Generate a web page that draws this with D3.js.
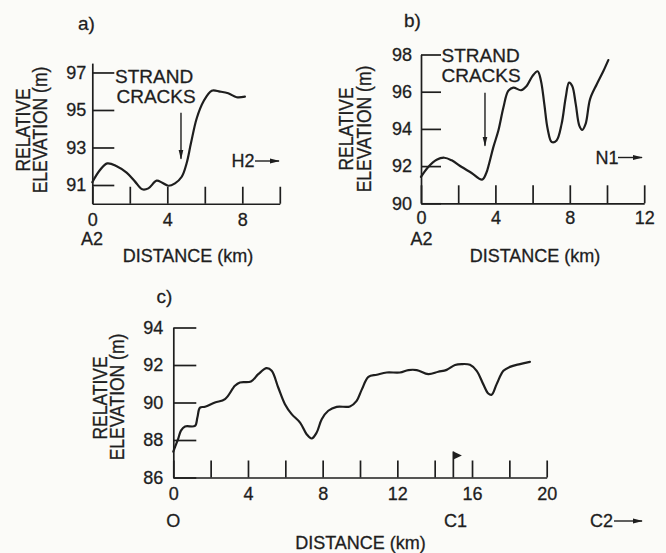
<!DOCTYPE html>
<html><head><meta charset="utf-8">
<script src="https://cdn.jsdelivr.net/npm/d3@7"></script>
<style>
html,body{margin:0;padding:0;background:#fbfbf8;}
svg{display:block;font-family:"Liberation Sans",Arial,Helvetica,sans-serif;}
text{fill:#1e1e1e;stroke:#1e1e1e;stroke-width:0.3px;}
</style></head><body>
<svg id="chart" width="666" height="553"></svg>
<script>
// ---------- Panel a ----------
const aDistance  = [0, 0.41, 0.8, 1.3, 1.83, 2.28, 2.67, 2.99, 3.43, 3.73, 4.05, 4.41, 4.77, 5.03, 5.26, 5.57, 5.92, 6.37, 6.81, 7.25, 7.7, 8.14];
const aElevation = [91.15, 91.8, 92.15, 92.0, 91.66, 91.18, 90.77, 90.82, 91.23, 91.12, 90.96, 91.09, 91.44, 92.16, 93.22, 94.56, 95.44, 96.03, 95.98, 95.89, 95.68, 95.71];
const aYTicks = [91, 93, 95, 97];
const aXTicks = [0, 2, 4, 6, 8, 10];
const aXLabels = [0, 4, 8];

// ---------- Panel b ----------
const bDistance  = [0, 0.39, 0.84, 1.25, 1.65, 2.19, 2.72, 3.28, 3.5, 3.66, 3.89, 4.16, 4.43, 4.69, 4.96, 5.38, 5.68, 5.99, 6.27, 6.45, 6.63, 6.81, 7.03, 7.29, 7.56, 7.78, 7.96, 8.13, 8.32, 8.51, 8.67, 8.85, 9.09, 9.45, 9.8, 10.07];
const bElevation = [91.42, 91.95, 92.34, 92.45, 92.31, 91.95, 91.63, 91.27, 91.6, 92.13, 93.02, 93.91, 95.15, 96.04, 96.22, 96.08, 96.31, 96.84, 97.1, 96.58, 95.33, 94.0, 93.29, 93.38, 94.27, 95.69, 96.49, 96.31, 95.33, 94.18, 93.95, 94.27, 95.6, 96.4, 97.1, 97.7];
const bYTicks = [90, 92, 94, 96, 98];
const bXTicks = [0, 2, 4, 6, 8, 10, 12];
const bXLabels = [0, 4, 8, 12];

// ---------- Panel c ----------
const cDistance  = [0, 0.09, 0.27, 0.41, 0.63, 1.16, 1.29, 1.43, 1.7, 2.23, 2.77, 3.3, 3.57, 4.16, 4.55, 5.0, 5.27, 5.62, 5.98, 6.34, 6.79, 7.14, 7.41, 7.68, 7.95, 8.3, 8.75, 9.46, 9.82, 10.1, 10.45, 10.9, 11.43, 12.14, 12.59, 13.04, 13.66, 14.19, 14.64, 15.09, 15.45, 15.89, 16.25, 16.6, 16.87, 17.05, 17.32, 17.68, 18.03, 18.57, 19.1];
const cElevation = [87.38, 87.62, 88.09, 88.5, 88.72, 88.75, 89.2, 89.73, 89.77, 90.0, 90.18, 90.89, 91.07, 91.12, 91.51, 91.83, 91.69, 90.8, 89.91, 89.38, 88.93, 88.31, 88.08, 88.4, 89.11, 89.56, 89.77, 89.79, 90.09, 90.7, 91.37, 91.48, 91.6, 91.6, 91.73, 91.73, 91.51, 91.64, 91.74, 92.0, 92.05, 92.01, 91.69, 90.98, 90.48, 90.41, 90.98, 91.69, 91.9, 92.05, 92.17];
const cYTicks = [86, 88, 90, 92, 94];
const cXTicks = [0, 2, 4, 6, 8, 10, 12, 14, 16, 18, 20];
const cXLabels = [0, 4, 8, 12, 16, 20];
const cFlagAt = 15;

const INK = "#1e1e1e";
const svg = d3.select("#chart");

const defs = svg.append("defs");
defs.append("marker").attr("id", "head").attr("viewBox", "0 0 10 6")
  .attr("refX", 9).attr("refY", 3).attr("markerWidth", 10).attr("markerHeight", 6)
  .attr("markerUnits", "userSpaceOnUse").attr("orient", "auto")
  .append("path").attr("d", "M0,0.6 L10,3 L0,5.4 Z").attr("fill", INK);

function panel(cfg) {
  const g = svg.append("g");
  const x = d3.scaleLinear().domain(cfg.xDomain).range(cfg.xRange);
  const y = d3.scaleLinear().domain(cfg.yDomain).range(cfg.yRange);

  const yAx = g.append("g").attr("transform", `translate(${x(cfg.xDomain[0])},0)`)
    .call(d3.axisLeft(y).tickValues(cfg.yTicks).tickSize(-cfg.yTickLen).tickSizeOuter(0)
      .tickPadding(cfg.yPad).tickFormat(d3.format("d")));
  const xAx = g.append("g").attr("transform", `translate(0,${y(cfg.yDomain[0])})`)
    .call(d3.axisBottom(x).tickValues(cfg.xTicks).tickSize(-cfg.xTickLen).tickSizeOuter(0)
      .tickPadding(cfg.xPad).tickFormat(d => cfg.xLabels.includes(d) ? d : ""));
  [yAx, xAx].forEach(a => {
    a.attr("font-size", null).attr("font-family", null);
    a.selectAll("path,line").attr("stroke", INK).attr("stroke-width", 1.7);
    a.selectAll("text").attr("fill", INK).style("font-size", "18px");
  });

  // profile line
  g.append("path")
    .datum(cfg.dist.map((d, i) => [d, cfg.elev[i]]))
    .attr("fill", "none").attr("stroke", INK).attr("stroke-width", 2.2)
    .attr("stroke-linejoin", "round").attr("stroke-linecap", "round")
    .attr("d", d3.line().x(d => x(d[0])).y(d => y(d[1])).curve(d3.curveCatmullRom.alpha(0.5)));

  // panel letter
  g.append("text").attr("x", cfg.letter[0]).attr("y", cfg.letter[1])
    .style("font-size", "19px").text(cfg.letter[2]);

  // rotated y label
  cfg.yLabel.forEach(l => {
    g.append("text").attr("transform", `translate(${l[0]},${l[1]}) rotate(-90) scale(1,1.12)`)
      .attr("text-anchor", "middle").style("font-size", "17.5px").text(l[2]);
  });

  // x title and station labels
  cfg.texts.forEach(t => {
    g.append("text").attr("x", t[0]).attr("y", t[1]).attr("text-anchor", t[3] || "middle")
      .style("font-size", "18px").text(t[2]);
  });

  // direction arrow (e.g. H2 →)
  if (cfg.dir) {
    const d = cfg.dir;
    g.append("text").attr("x", d.x).attr("y", d.y).style("font-size", "18px").text(d.label);
    g.append("line").attr("x1", d.lx1).attr("x2", d.lx2).attr("y1", d.y - 6).attr("y2", d.y - 6)
      .attr("stroke", INK).attr("stroke-width", 1.4).attr("marker-end", "url(#head)");
  }

  // strand cracks annotation
  if (cfg.cracks) {
    const c = cfg.cracks;
    g.append("text").attr("x", c.tx).attr("y", c.ty).style("font-size", "19px").text("STRAND");
    g.append("text").attr("x", c.tx2).attr("y", c.ty + 20).style("font-size", "19px").text("CRACKS");
    g.append("line").attr("x1", x(c.at)).attr("x2", x(c.at))
      .attr("y1", y(c.from)).attr("y2", y(c.to))
      .attr("stroke", INK).attr("stroke-width", 1.4).attr("marker-end", "url(#head)");
  }

  // flag
  if (cfg.flag !== undefined) {
    const fx = x(cfg.flag), fy = y(cfg.yDomain[0]);
    g.append("line").attr("x1", fx).attr("x2", fx).attr("y1", fy).attr("y2", fy - 26)
      .attr("stroke", INK).attr("stroke-width", 1.7);
    g.append("path").attr("d", `M${fx},${fy - 26} L${fx + 8.5},${fy - 22} L${fx},${fy - 18} Z`).attr("fill", INK);
  }
}

panel({
  xDomain: [0, 10], xRange: [92.3, 279.8],
  yDomain: [90, 97.5], yRange: [203.75, 63.1],
  yTicks: aYTicks, yTickLen: 22, yPad: 6,
  xTicks: aXTicks, xTickLen: 17, xPad: 9, xLabels: aXLabels,
  dist: aDistance, elev: aElevation,
  letter: [78, 30, "a)"],
  yLabel: [[29.5, 130, "RELATIVE"], [47, 130, "ELEVATION (m)"]],
  texts: [[92, 245, "A2"], [188, 262, "DISTANCE (km)"]],
  dir: {x: 231.5, y: 167, label: "H2", lx1: 255, lx2: 279},
  cracks: {tx: 115, tx2: 116.5, ty: 83, at: 4.73, from: 94.85, to: 92.4}
});

panel({
  xDomain: [0, 12], xRange: [421, 644.2],
  yDomain: [90, 98], yRange: [203.3, 54.5],
  yTicks: bYTicks, yTickLen: 20, yPad: 9,
  xTicks: bXTicks, xTickLen: 18, xPad: 8, xLabels: bXLabels,
  dist: bDistance, elev: bElevation,
  letter: [404, 27, "b)"],
  yLabel: [[353, 129, "RELATIVE"], [371, 129, "ELEVATION (m)"]],
  texts: [[421.5, 245, "A2"], [535, 262, "DISTANCE (km)"]],
  dir: {x: 595.5, y: 163.5, label: "N1", lx1: 618, lx2: 642},
  cracks: {tx: 441.5, tx2: 441.5, ty: 62, at: 3.44, from: 95.95, to: 93.1}
});

panel({
  xDomain: [0, 20], xRange: [173.3, 546.7],
  yDomain: [86, 94], yRange: [477.5, 327.5],
  yTicks: cYTicks, yTickLen: 23, yPad: 10,
  xTicks: cXTicks, xTickLen: 17, xPad: 10, xLabels: cXLabels,
  dist: cDistance, elev: cElevation,
  letter: [156.5, 303, "c)"],
  yLabel: [[107, 398, "RELATIVE"], [124, 397, "ELEVATION (m)"]],
  texts: [[173.3, 527, "O"], [455.5, 527, "C1"], [360.5, 548.5, "DISTANCE (km)"]],
  dir: {x: 590, y: 527, label: "C2", lx1: 614, lx2: 642},
  flag: cFlagAt
});
</script>
</body></html>
